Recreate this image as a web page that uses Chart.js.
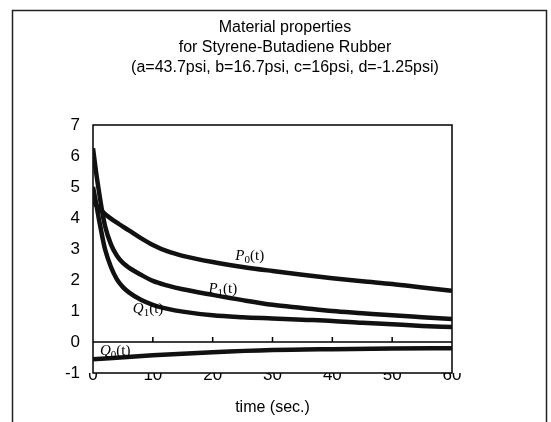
<!DOCTYPE html>
<html>
<head>
<meta charset="utf-8">
<script src="https://cdn.jsdelivr.net/npm/chart.js@4.4.1/dist/chart.umd.min.js"></script>
<style>
  html, body { margin: 0; padding: 0; background: #fff; }
  #wrap { width: 551px; height: 422px; }
</style>
</head>
<body>
<div id="wrap"><canvas id="srChart"></canvas></div>
<script>
// time samples (sec.)
const times = [0, 0.5, 1, 1.5, 2, 3, 4, 5, 6, 8, 10, 12.5, 15, 20, 25, 30, 35, 40, 45, 50, 55, 60];

// material functions
const p0Values = [4.55, 4.42, 4.32, 4.22, 4.13, 3.98, 3.85, 3.72, 3.6, 3.35, 3.13, 2.92, 2.78, 2.58, 2.42, 2.29, 2.17, 2.06, 1.96, 1.87, 1.76, 1.65];
const p1Values = [6.25, 5.5, 4.85, 4.25, 3.75, 3.15, 2.78, 2.55, 2.4, 2.17, 1.97, 1.82, 1.7, 1.52, 1.35, 1.2, 1.1, 1.0, 0.93, 0.86, 0.8, 0.74];
const q1Values = [5.0, 4.5, 3.95, 3.45, 3.0, 2.42, 2.02, 1.77, 1.6, 1.36, 1.2, 1.07, 0.98, 0.86, 0.8, 0.76, 0.72, 0.68, 0.62, 0.57, 0.52, 0.48];
const q0Times = [0, 10, 20, 30, 40, 50, 60];
const q0Values = [-0.56, -0.43, -0.33, -0.26, -0.23, -0.21, -0.2];

const xTicks = [0, 10, 20, 30, 40, 50, 60];
const titleLines = ['Material properties', 'for Styrene-Butadiene Rubber', '(a=43.7psi, b=16.7psi, c=16psi, d=-1.25psi)'];

// curve labels: letter, subscript, anchor (t, value)
const curveLabels = [
    { name: 'P', sub: '0', t: 26.2, v: 2.8 },
    { name: 'P', sub: '1', t: 21.7, v: 1.74 },
    { name: 'Q', sub: '1', t: 9.2, v: 1.1 },
    { name: 'Q', sub: '0', t: 3.7, v: -0.26 }
];

const sans = "'Liberation Sans', Arial, sans-serif";

function toPoints(xs, ys) {
    return xs.map((x, i) => ({ x: x, y: ys[i] }));
}

function series(label, xs, ys) {
    return {
        label: label,
        data: toPoints(xs, ys),
        borderColor: '#111',
        borderWidth: 4.5,
        pointRadius: 0,
        cubicInterpolationMode: 'monotone',
        fill: false
    };
}

// outer frame, title, plot box and the zero line with its ticks
const framePlugin = {
    id: 'frame',
    beforeDatasetsDraw(chart) {
        const { ctx, chartArea: a, scales } = chart;
        ctx.save();
        ctx.strokeStyle = '#000';
        ctx.lineWidth = 1.5;
        ctx.strokeRect(a.left, a.top, a.right - a.left, a.bottom - a.top);
        const y0 = scales.y.getPixelForValue(0);
        ctx.beginPath();
        ctx.moveTo(a.left, y0);
        ctx.lineTo(a.right, y0);
        xTicks.slice(1, -1).forEach(t => {
            const x = scales.x.getPixelForValue(t);
            ctx.moveTo(x, y0);
            ctx.lineTo(x, y0 - 5);
        });
        ctx.stroke();
        ctx.restore();
    },
    afterDraw(chart) {
        const { ctx } = chart;
        ctx.save();
        ctx.strokeStyle = '#222';
        ctx.lineWidth = 1.5;
        ctx.beginPath();
        ctx.moveTo(12.5, 422);
        ctx.lineTo(12.5, 10.5);
        ctx.lineTo(546.5, 10.5);
        ctx.lineTo(546.5, 422);
        ctx.stroke();

        ctx.fillStyle = '#000';
        ctx.font = '16px ' + sans;
        ctx.textAlign = 'center';
        ctx.textBaseline = 'middle';
        titleLines.forEach((line, i) => ctx.fillText(line, 285, 28 + i * 20));
        ctx.restore();
    }
};

const labelPlugin = {
    id: 'curveLabels',
    afterDatasetsDraw(chart) {
        const { ctx, scales } = chart;
        ctx.save();
        ctx.fillStyle = '#000';
        ctx.textBaseline = 'alphabetic';
        curveLabels.forEach(l => {
            const cx = scales.x.getPixelForValue(l.t);
            const cy = scales.y.getPixelForValue(l.v);
            const main = "italic 15px 'Liberation Serif', serif";
            const small = "11px 'Liberation Serif', serif";
            const tail = "15px 'Liberation Serif', serif";
            ctx.font = main; const w1 = ctx.measureText(l.name).width;
            ctx.font = small; const w2 = ctx.measureText(l.sub).width;
            ctx.font = tail; const w3 = ctx.measureText('(t)').width;
            let x = cx - (w1 + w2 + w3) / 2;
            const base = cy + 5;
            ctx.font = main; ctx.fillText(l.name, x, base); x += w1;
            ctx.font = small; ctx.fillText(l.sub, x, base + 3); x += w2;
            ctx.font = tail; ctx.fillText('(t)', x, base);
        });
        ctx.restore();
    }
};

const ctx = document.getElementById('srChart').getContext('2d');
const srChart = new Chart(ctx, {
    type: 'line',
    data: {
        datasets: [
            series('P0(t)', times, p0Values),
            series('P1(t)', times, p1Values),
            series('Q1(t)', times, q1Values),
            series('Q0(t)', q0Times, q0Values)
        ]
    },
    options: {
        responsive: true,
        maintainAspectRatio: false,
        animation: false,
        layout: { padding: { left: 0, right: 99, top: 125, bottom: 0 } },
        plugins: {
            legend: { display: false },
            tooltip: { enabled: false },
            title: { display: false }
        },
        scales: {
            x: {
                type: 'linear',
                min: 0,
                max: 60,
                afterFit(scale) { scale.height = 49; },
                afterBuildTicks(scale) { scale.ticks = xTicks.map(v => ({ value: v })); },
                grid: { display: false, drawTicks: false },
                border: { display: false },
                ticks: { color: '#000', padding: -8, font: { family: sans, size: 17 } },
                title: {
                    display: true,
                    text: 'time (sec.)',
                    color: '#000',
                    font: { family: sans, size: 16 },
                    padding: { top: 0, bottom: 5 }
                }
            },
            y: {
                min: -1,
                max: 7,
                afterFit(scale) { scale.width = 93; },
                grid: { display: false, drawTicks: false },
                border: { display: false },
                ticks: { stepSize: 1, color: '#000', padding: 13, font: { family: sans, size: 17 } }
            }
        }
    },
    plugins: [framePlugin, labelPlugin]
});
</script>
</body>
</html>
